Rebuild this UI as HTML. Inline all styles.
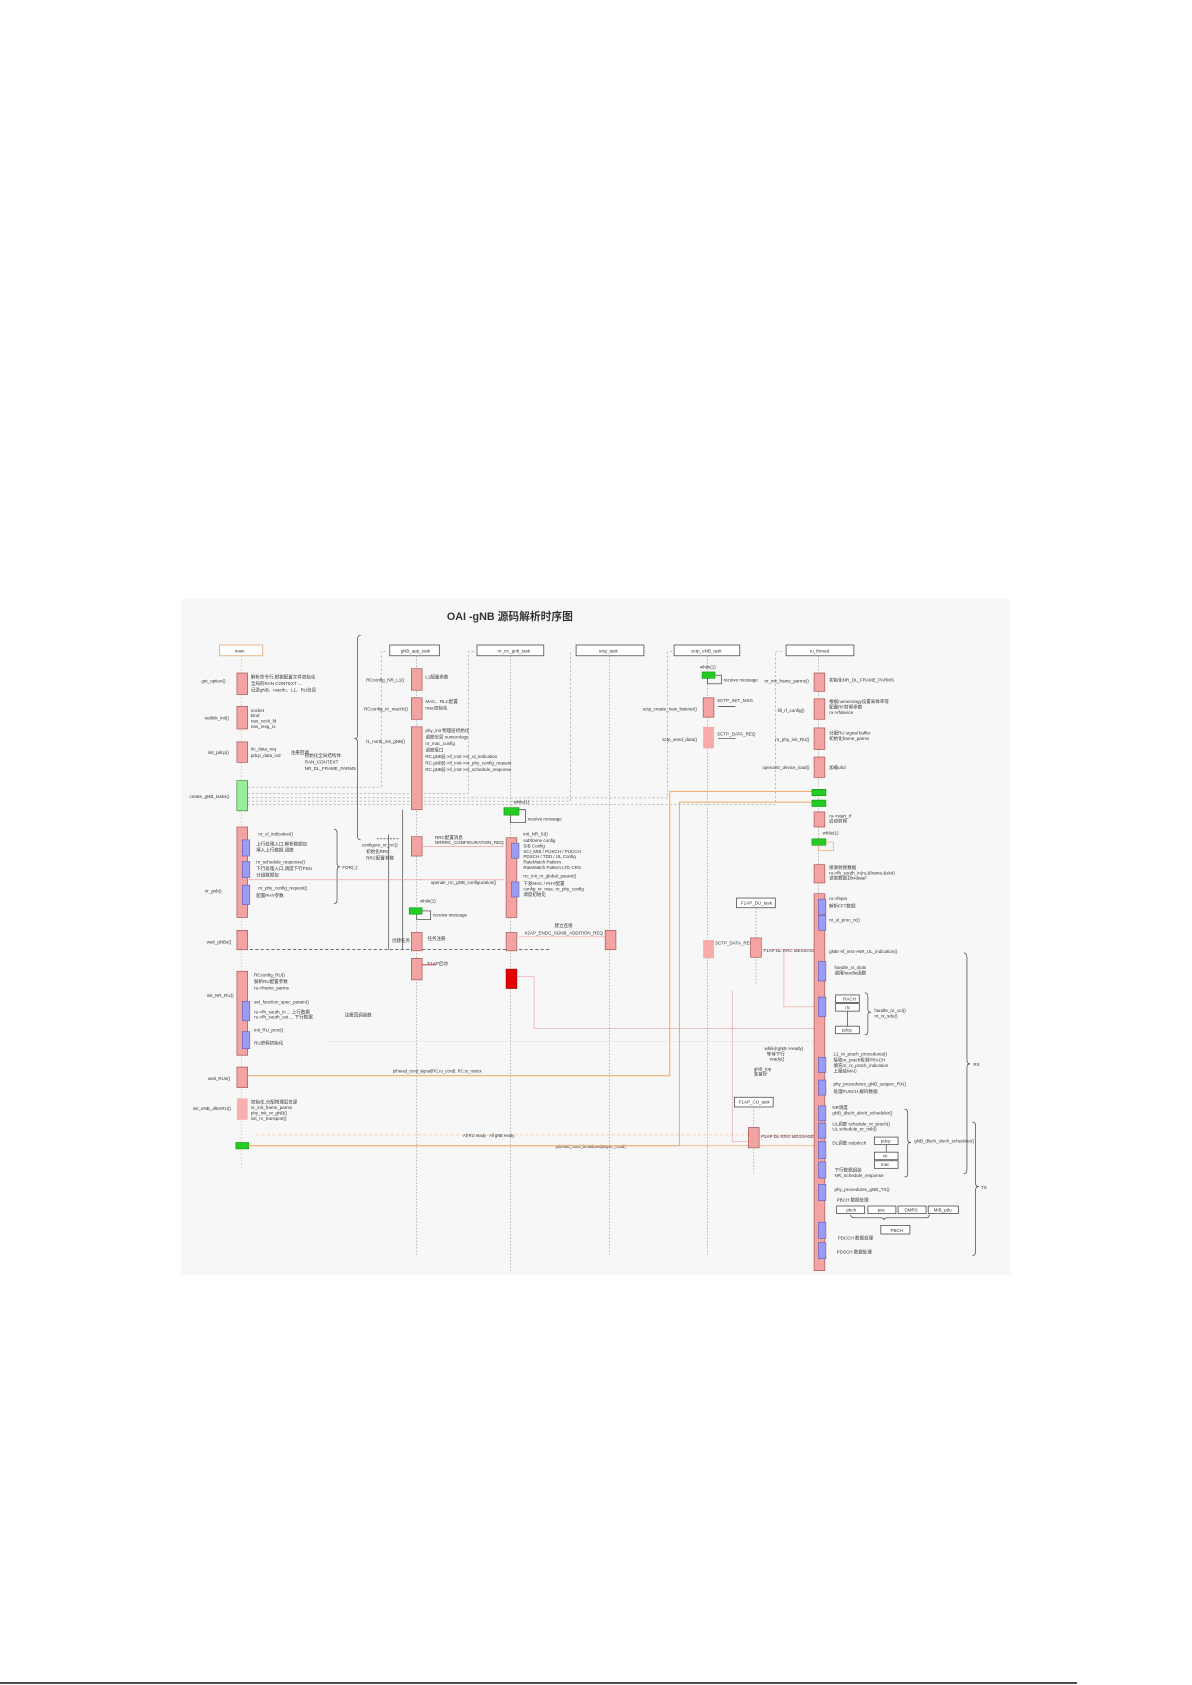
<!DOCTYPE html>
<html><head><meta charset="utf-8"><style>
html,body{margin:0;padding:0;background:#fff;}
svg{display:block}
text{font-family:"Liberation Sans","Noto Sans CJK SC",sans-serif;fill:#333;font-size:4.2px}
.p{fill:#f4a3a3;stroke:#a05050;stroke-width:.6}
.u{fill:#9c9cf2;stroke:#5555aa;stroke-width:.5}
.g{fill:#22cc22;stroke:#118811;stroke-width:.5}
.h{fill:#fff;stroke:#444;stroke-width:.7}
.ll{stroke:#999;stroke-width:.6;stroke-dasharray:1.5,1.5}
.d{stroke:#888;stroke-width:.5;stroke-dasharray:2,2;fill:none}
.o{stroke:#f0b070;stroke-width:1;fill:none}
.r{stroke:#f0a0a0;stroke-width:.6;fill:none}
.k{stroke:#333;stroke-width:.6;fill:none}
</style></head><body>
<svg width="1192" height="1685" viewBox="0 0 1192 1685">
<line x1="0" y1="1683" x2="1077" y2="1683" stroke="#111" stroke-width="1.5"/>
<g transform="scale(1.0768)">
<rect x="168" y="556" width="770" height="628" fill="#f7f7f7"/>
<text x="415" y="576" style="font-size:10px;font-weight:bold;fill:#333">OAI -gNB 源码解析时序图</text>
<rect x="204" y="599" width="40" height="10" fill="#fff" stroke="#e0a060" stroke-width=".7"/><text x="218" y="606">main</text>
<rect class="h" x="362" y="599" width="46" height="10"/><text x="372" y="606">gNB_app_task</text>
<rect class="h" x="443" y="599" width="62" height="10"/><text x="462" y="606">nr_rrc_gnb_task</text>
<rect class="h" x="535" y="599" width="63" height="10"/><text x="556" y="606">sctp_task</text>
<rect class="h" x="626" y="599" width="61" height="10"/><text x="642" y="606">sctp_eNB_task</text>
<rect class="h" x="730" y="599" width="63" height="10"/><text x="752" y="606">ru_thread</text>
<line x1="224" y1="609" x2="224" y2="1085" stroke="#e0b080" stroke-width=".6" stroke-dasharray="1.5,1.5"/>
<line class="ll" x1="387" y1="609" x2="387" y2="1165"/>
<line class="ll" x1="474" y1="609" x2="474" y2="1180"/>
<line class="ll" x1="566" y1="609" x2="566" y2="1165"/>
<line class="ll" x1="657" y1="609" x2="657" y2="1165"/>
<line class="ll" x1="760" y1="609" x2="760" y2="1182"/>
<path class="d" d="M230 731 H354 V605 H360"/>
<path class="d" d="M230 737 H435 V605 H441"/>
<path class="d" d="M230 744 H530 V605"/>
<path class="d" d="M230 741 H620 V605 H624"/>
<path class="d" d="M230 747 H720 V605 H728"/>
<rect class="p" x="220" y="625" width="10" height="20"/><text x="187" y="634">get_option()</text><text x="233" y="630">解析命令行,根据配置文件初始化</text><text x="233" y="636">全局的RAN CONTEXT ...</text><text x="233" y="642">记录gNB、macrlc、L1、RU信息</text>
<rect class="p" x="220" y="656" width="10" height="21"/><text x="190" y="668">netlink_init()</text><text x="233" y="661">socket</text><text x="233" y="666">bind</text><text x="233" y="671">nas_sock_fd</text><text x="233" y="676">nas_msg_rx</text>
<rect class="p" x="220" y="689" width="10" height="19"/><text x="193" y="700">init_pdcp()</text><text x="233" y="697">rlc_data_req</text><text x="233" y="703">pdcp_data_ind</text><text x="270" y="700">注册回调</text>
<rect x="220" y="725" width="10" height="28" fill="#99ee99" stroke="#338833" stroke-width=".6"/><text x="176" y="741">create_gNB_tasks()</text>
<rect class="p" x="220" y="768" width="10" height="84"/><rect class="u" x="225" y="780" width="7" height="15"/><rect class="u" x="225" y="800" width="7" height="15"/><rect class="u" x="225" y="822" width="7" height="18"/>
<text x="190" y="829">nr_gnb()</text><text x="240" y="776">nr_ul_indication()</text><text x="238" y="785">上行处理入口,解析数据包</text><text x="238" y="791">填入上行数据,调度</text><text x="238" y="802">nr_schedule_response()</text><text x="238" y="808">下行处理入口,调度下行PDU</text><text x="238" y="814">分组数据包</text><text x="240" y="826">nr_phy_config_request()</text><text x="238" y="833">配置PHY参数</text>
<rect class="p" x="220" y="864" width="10" height="18"/><text x="192" y="876">wait_gNBs()</text>
<line x1="232" y1="882" x2="510" y2="882" stroke="#222" stroke-width=".6" stroke-dasharray="3,2"/>
<rect class="p" x="220" y="902" width="10" height="78"/><rect class="u" x="225" y="930" width="7" height="18"/><rect class="u" x="225" y="958" width="7" height="16"/>
<text x="192" y="926">init_NR_RU()</text><text x="236" y="907">RCconfig_RU()</text><text x="236" y="913">解析RU配置参数</text><text x="236" y="919">ru-&gt;frame_parms</text><text x="236" y="932">set_function_spec_param()</text><text x="236" y="941">ru-&gt;fh_south_in ... 上行数据</text><text x="236" y="946">ru-&gt;fh_south_out ... 下行数据</text><text x="320" y="944">注册回调函数</text><text x="236" y="958">init_RU_proc()</text><text x="236" y="970">RU进程初始化</text>
<rect class="p" x="220" y="991" width="10" height="19"/><text x="193" y="1003">wait_RUs()</text>
<rect x="220" y="1020" width="10" height="20" fill="#f7b0b0"/><text x="179" y="1031">init_eNB_afterRU()</text><text x="233" y="1025">初始化,分配物理层资源</text><text x="233" y="1030">nr_init_frame_parms</text><text x="233" y="1035">phy_init_nr_gNB()</text><text x="233" y="1040">init_nr_transport()</text>
<rect class="g" x="219" y="1061" width="12" height="6"/>
<path d="M238 1054 H760" stroke="#f0c090" stroke-width=".6" stroke-dasharray="3,2"/><text x="430" y="1056" style="font-size:3.8px">All RU ready · All gNB ready</text>
<path d="M231 1064 H760" stroke="#f0b070" stroke-width=".7"/><text x="516" y="1066" style="font-size:3.8px">pthread_cond_broadcast(&amp;sync_cond)</text>
<path class="k" d="M335 590 q-3 0 -3 4 V683 q0 3 -3 3 q3 0 3 3 V776 q0 4 3 4"/><text x="283" y="703">初始化全局结构体</text><text x="283" y="709">RAN_CONTEXT</text><text x="283" y="715">NR_DL_FRAME_PARMS</text>
<path class="k" d="M310 770 q3 0 3 3 V802 q0 3 3 3 q-3 0 -3 3 V836 q0 3 -3 3"/><text x="318" y="807">FOR(;;)</text>
<rect class="p" x="382" y="621" width="10" height="20"/><text x="340" y="633">RCconfig_NR_L1()</text><text x="395" y="630">L1配置参数</text>
<rect class="p" x="382" y="648" width="10" height="20"/><text x="338" y="660">RCconfig_nr_macrlc()</text><text x="395" y="653">MAC、RLC配置</text><text x="395" y="659">mac初始化</text>
<rect class="p" x="382" y="675" width="10" height="77"/><text x="340" y="690">l1_north_init_gNB()</text>
<text x="395" y="680">phy_init 物理层初始化</text><text x="395" y="686">调度信息 numerology</text><text x="395" y="692">nr_mac_config</text><text x="395" y="698">调度接口</text><text x="395" y="704">RC.gNB[i]-&gt;if_inst-&gt;nr_ul_indication</text><text x="395" y="710">RC.gNB[i]-&gt;if_inst-&gt;nr_phy_config_request</text><text x="395" y="716">RC.gNB[i]-&gt;if_inst-&gt;nr_schedule_response</text>
<rect class="p" x="382" y="777" width="10" height="18"/><text x="336" y="786">configure_nr_rrc()</text><text x="340" y="792">初始化RRC</text><text x="340" y="798">RRC配置参数</text>
<path d="M350 779 H370" stroke="#333" stroke-width=".5" stroke-dasharray="2,1"/>
<line x1="361" y1="775" x2="361" y2="882" stroke="#333" stroke-width=".6"/>
<line x1="374" y1="752" x2="374" y2="882" stroke="#333" stroke-width=".6"/>
<path class="r" d="M392 786 H468"/><text x="404" y="779">RRC配置消息</text><text x="404" y="784">NRRRC_CONFIGURATION_REQ</text>
<rect class="g" x="380" y="843" width="12" height="6"/><text x="390" y="838">while(1)</text><path class="k" d="M387 849 V854 H400 V846 H392"/><text x="402" y="851">receive message</text>
<rect class="p" x="382" y="866" width="10" height="17"/><text x="364" y="875">创建任务</text><text x="397" y="873">任务注册</text>
<rect class="p" x="382" y="890" width="10" height="20"/><text x="397" y="896">F1AP启动</text><path d="M392 896 H405" stroke="#c22" stroke-width=".8"/>
<rect class="g" x="468" y="750" width="14" height="7"/><text x="477" y="746">while(1)</text><path class="k" d="M474 757 V764 H488 V752 H482"/><text x="490" y="762">receive message</text>
<rect class="p" x="470" y="778" width="10" height="74"/><rect class="u" x="475" y="783" width="7" height="14"/><rect class="u" x="475" y="819" width="7" height="14"/>
<text x="486" y="776">init_NR_SI()</text><text x="486" y="782">subframe config</text><text x="486" y="787">SIB Config</text><text x="486" y="792">SCI_MIB / PUSCH / PUCCH</text><text x="486" y="797">PDSCH / TDD / UL Config</text><text x="486" y="802">RateMatch Pattern</text><text x="486" y="807">RateMatch Pattern LTE CRS</text><text x="486" y="815">rrc_init_nr_global_param()</text><text x="486" y="822">下发MAC / PHY配置</text><text x="486" y="827">config_nr_mac, nr_phy_config</text><text x="486" y="832">调度初始化</text>
<text x="400" y="821">openair_rrc_gNB_configuration()</text><path class="r" d="M230 817 H468"/>
<rect class="p" x="470" y="866" width="10" height="17"/><text x="515" y="861">建立连接</text><text x="487" y="868">X2AP_ENDC_SGNB_ADDITION_REQ</text><path class="r" d="M562 870 H482"/>
<rect x="470" y="900" width="10" height="18" fill="#e60000" stroke="#900" stroke-width=".6"/><path class="r" d="M480 907 H496 V955 H760"/>
<line x1="305" y1="967" x2="760" y2="967" stroke="#ccc" stroke-width=".5" stroke-dasharray="2,2"/>
<rect class="p" x="562" y="864" width="10" height="18"/>
<rect class="g" x="652" y="624" width="12" height="6"/><text x="650" y="621">while(1)</text><path class="k" d="M657 630 V635 H670 V627 H664"/><text x="672" y="633">receive message</text>
<rect class="p" x="653" y="648" width="10" height="18"/><text x="597" y="660">sctp_create_new_listener()</text><text x="666" y="652">SCTP_INIT_MSG</text><path class="k" d="M667 656 H683"/>
<rect x="653" y="675" width="10" height="20" fill="#f7aaaa"/><text x="615" y="688">sctp_send_data()</text><text x="666" y="683">SCTP_DATA_REQ</text><path class="k" d="M667 686 H683"/>
<rect x="653" y="873" width="10" height="17" fill="#f7aaaa"/><text x="664" y="877">SCTP_DATA_REQ</text>
<rect class="h" x="684" y="834" width="36" height="9"/><text x="688" y="840">F1AP_DU_task</text><line class="ll" x1="702" y1="843" x2="702" y2="915"/>
<rect class="p" x="697" y="871" width="10" height="18"/><text x="709" y="884">F1AP DL RRC MESSAGE</text><path class="r" d="M707 882 H756"/><path class="r" d="M728 882 V935 H756"/>
<rect class="h" x="682" y="1019" width="36" height="9"/><text x="686" y="1025">F1AP_CU_task</text><line class="ll" x1="700" y1="1028" x2="700" y2="1090"/>
<rect class="p" x="695" y="1047" width="10" height="19"/><text x="707" y="1057">F1AP DL RRC MESSAGE</text><path class="r" d="M705 1055 H756"/><path class="r" d="M695 1060 H680 V920"/>
<path class="o" d="M230 999 H622 V735 H754"/><text x="365" y="996" style="font-size:3.8px">pthread_cond_signal(RC.ru_cond), RC.ru_mutex</text>
<path class="o" d="M231 1064 H631 V745 H754"/>
<rect class="p" x="756" y="625" width="10" height="17"/><text x="710" y="634">nr_init_frame_parms()</text><text x="770" y="633">初始化NR_DL_FRAME_PARMS</text>
<rect class="p" x="756" y="649" width="10" height="19"/><text x="722" y="661">fill_rf_config()</text><text x="770" y="653">根据numerology设置采样率等</text><text x="770" y="658">配置RF射频参数</text><text x="770" y="663">ru-&gt;rfdevice</text>
<rect class="p" x="756" y="676" width="10" height="20"/><text x="720" y="688">nr_phy_init_RU()</text><text x="770" y="682">分配RU signal buffer</text><text x="770" y="687">初始化frame_parms</text>
<rect class="p" x="756" y="703" width="10" height="19"/><text x="708" y="714">openair0_device_load()</text><text x="770" y="714">加载uhd</text>
<rect class="g" x="754" y="733" width="13" height="6"/><rect class="g" x="754" y="743" width="13" height="6"/>
<rect class="p" x="756" y="754" width="10" height="14"/><text x="770" y="759">ru-&gt;start_rf</text><text x="770" y="764">启动射频</text>
<rect class="g" x="754" y="779" width="13" height="6"/><text x="764" y="775">while(1)</text><path d="M760 785 V790 H774 V782 H767" stroke="#f0a050" stroke-width=".6" fill="none"/>
<rect class="p" x="756" y="803" width="10" height="17"/><text x="770" y="807">接收射频数据</text><text x="770" y="812">ru-&gt;fh_south_in(ru,&amp;frame,&amp;slot)</text><text x="770" y="817">读取数据到rxdataF</text>
<rect class="p" x="756" y="830" width="10" height="350"/>
<text x="770" y="836">ru-&gt;feprx</text><text x="770" y="843">解析FFT数据</text><text x="770" y="856">nr_ul_proc_rx()</text>
<rect class="u" x="760" y="835" width="7" height="14"/><rect class="u" x="760" y="850" width="7" height="14"/>
<text x="770" y="885">gNB-&gt;if_inst-&gt;NR_UL_indication()</text>
<rect class="u" x="760" y="893" width="7" height="18"/><text x="775" y="900">handle_rx_slots</text><text x="775" y="905">调用handle函数</text>
<rect class="u" x="760" y="926" width="7" height="18"/>
<rect class="h" x="776" y="924" width="22" height="7"/><text x="783" y="929">RACH</text><rect class="h" x="776" y="932" width="22" height="7"/><text x="785" y="937">rlc</text><path class="k" d="M787 939 V953"/><rect class="h" x="776" y="953" width="22" height="7"/><text x="782" y="958">pdcp</text>
<path class="k" d="M803 922 q3 0 3 4 V938 q0 2 3 2 q-3 0 -3 2 V958 q0 3 -3 3"/><text x="812" y="940">handle_nr_uci()</text><text x="812" y="945">nr_rx_sdu()</text>
<rect class="u" x="760" y="982" width="7" height="14"/><rect class="u" x="760" y="1003" width="7" height="14"/>
<text x="710" y="975">while(!gNB-&gt;ready)</text><text x="712" y="980">等待下行</text><text x="715" y="985">ready()</text><text x="700" y="994">gNB_top</text><text x="700" y="999">准备好</text>
<text x="774" y="980">L1_nr_prach_procedures()</text><text x="774" y="986">接收nr_prach检测PRACH</text><text x="774" y="991">填充nr_rx_prach_indication</text><text x="774" y="996">上报给MAC</text>
<text x="774" y="1008">phy_procedures_gNB_uespec_RX()</text><text x="774" y="1015">处理PUSCH,解码数据</text>
<rect class="u" x="760" y="1027" width="7" height="14"/><rect class="u" x="760" y="1043" width="7" height="14"/><rect class="u" x="760" y="1060" width="7" height="16"/><rect class="u" x="760" y="1079" width="7" height="15"/><rect class="u" x="760" y="1100" width="7" height="15"/><rect class="u" x="760" y="1135" width="7" height="15"/><rect class="u" x="760" y="1154" width="7" height="15"/>
<text x="773" y="1030">NR调度</text><text x="773" y="1035">gNB_dlsch_ulsch_scheduler()</text><text x="773" y="1045">UL调度 schedule_nr_prach()</text><text x="773" y="1050">UL schedule_nr_mib()</text><text x="773" y="1063">DL调度 ss/pdcch</text>
<rect class="h" x="812" y="1056" width="22" height="7"/><text x="818" y="1061">pdcp</text><path class="k" d="M823 1063 V1070"/><rect class="h" x="812" y="1070" width="22" height="7"/><text x="820" y="1075">rlc</text><rect class="h" x="812" y="1078" width="22" height="7"/><text x="818" y="1083">mac</text>
<text x="775" y="1088">下行数据组装</text><text x="775" y="1093">NR_Schedule_response</text>
<path class="k" d="M840 1030 q3 0 3 4 V1058 q0 3 3 3 q-3 0 -3 3 V1090 q0 3 -3 3"/><text x="849" y="1061">gNB_dlsch_ulsch_scheduler()</text>
<text x="775" y="1106">phy_procedures_gNB_TX()</text><text x="777" y="1116">PBCH 数据处理</text>
<rect class="h" x="777" y="1120" width="26" height="7"/><text x="786" y="1125">pbch</text><rect class="h" x="806" y="1120" width="26" height="7"/><text x="815" y="1125">pss</text><rect class="h" x="834" y="1120" width="26" height="7"/><text x="840" y="1125">DMRS</text><rect class="h" x="862" y="1120" width="28" height="7"/><text x="867" y="1125">MIB_pdu</text>
<path class="k" d="M790 1128 q0 3 4 3 H818 q3 0 3 2 q0 -2 3 -2 H860 q3 0 3 -3"/>
<rect class="h" x="818" y="1138" width="27" height="8"/><text x="827" y="1144">PBCH</text>
<text x="778" y="1151">PDCCH 数据处理</text><text x="777" y="1164">PDSCH 数据处理</text>
<path class="k" d="M895 885 q3 0 3 4 V985 q0 3 3 3 q-3 0 -3 3 V1086 q0 4 -3 4"/><text x="904" y="990">RX</text>
<path class="k" d="M903 1042 q3 0 3 4 V1099 q0 3 3 3 q-3 0 -3 3 V1162 q0 4 -3 4"/><text x="911" y="1104">TX</text>
</g>
</svg>
</body></html>
